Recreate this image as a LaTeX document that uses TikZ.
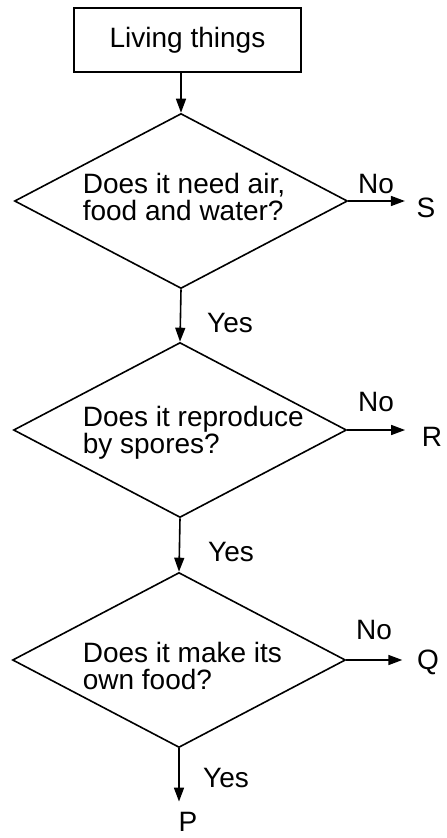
\documentclass[tikz,border=0pt]{standalone}
\usepackage{fontspec}
\setmainfont{Liberation Sans}
\usetikzlibrary{shapes.geometric,arrows.meta}
\begin{document}
\begin{tikzpicture}[x=1pt,y=-1pt,line width=1.6pt,
  every node/.style={font=\fontsize{28}{27}\selectfont, inner sep=0pt},
  decbox/.style={diamond, draw, minimum width=333pt, minimum height=175pt},
  qtext/.style={align=left, anchor=west},
  arr/.style={-{Triangle[length=14pt,width=10pt]}}]
\useasboundingbox (0,0) rectangle (447,838);
% nodes
\node[draw, minimum width=227pt, minimum height=64pt] (box) at (187.5,40) {Living things};
\node[decbox] (d1) at (181,201) {};
\node[decbox] (d2) at (180,430) {};
\node[decbox] (d3) at (179,660) {};
\node[qtext] (t1) at (82,197) {Does it need air,\\food and water?};
\node[qtext] (t2) at (82,433) {Does it reproduce\\by spores?};
\node[qtext] (t3) at (82,666) {Does it make its\\own food?};
\node (n1) at (376,184) {No};
\node (n2) at (376,402) {No};
\node (n3) at (374,630) {No};
\node (y1) at (230,323) {Yes};
\node (y2) at (231,552) {Yes};
\node (y3) at (226,778) {Yes};
\node (S) at (426,208) {S};
\node (R) at (432,437) {R};
\node (Q) at (428,662) {Q};
\node (P) at (188,822) {P};
% connectors
\draw[arr] (d1.north |- box.south) -- (d1.north);
\draw[arr] (d1.south) -- (d2.north);
\draw[arr] (d2.south) -- (d3.north);
\draw[arr, shorten >=10pt] (d3.south) -- (d3.south |- P.north);
\draw[arr, shorten >=11pt] (d1.east) -- (d1.east -| S.west);
\draw[arr, shorten >=16pt] (d2.east) -- (d2.east -| R.west);
\draw[arr, shorten >=14pt] (d3.east) -- (d3.east -| Q.west);
\end{tikzpicture}
\end{document}
